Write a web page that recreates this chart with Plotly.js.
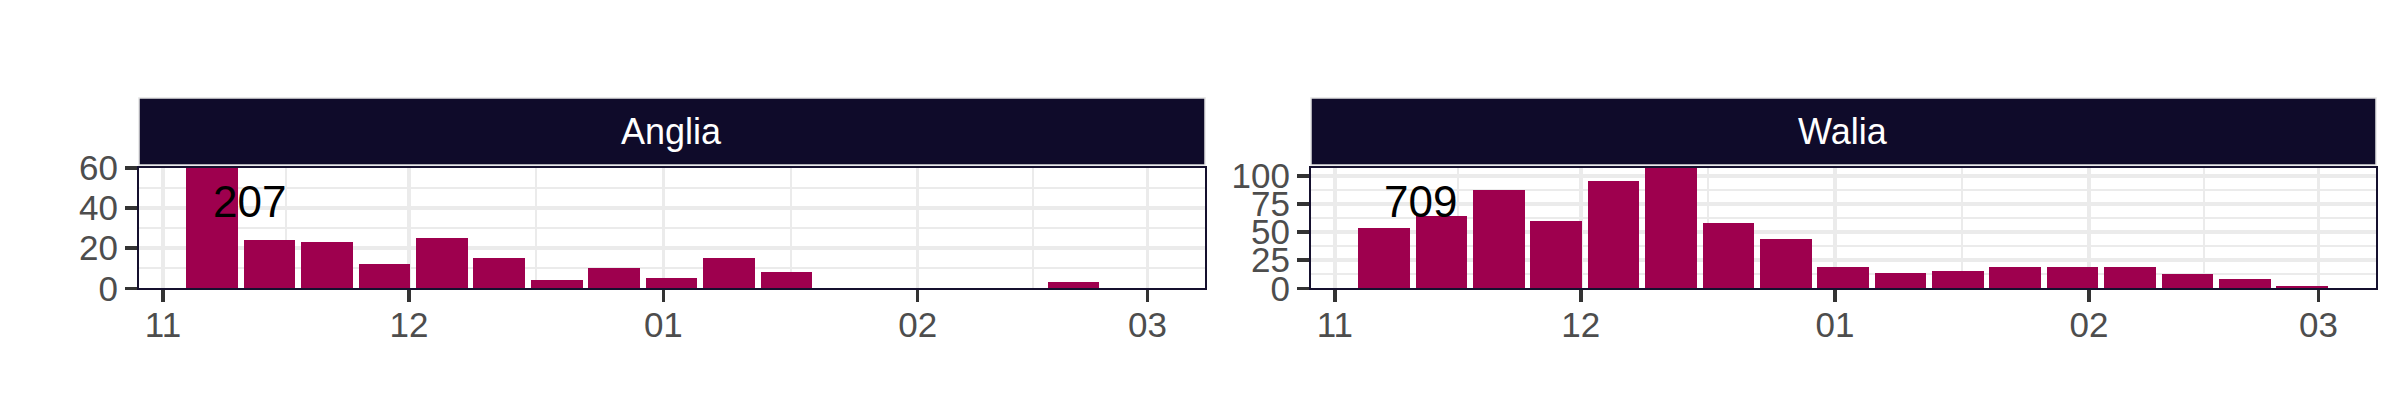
<!DOCTYPE html>
<html>
<head>
<meta charset="utf-8">
<script src="https://cdn.plot.ly/plotly-3.0.1.min.js"></script>
<style>
  html, body { margin: 0; padding: 0; background: #ffffff; }
  #chart { width: 2400px; height: 420px; }
</style>
</head>
<body>
<div id="chart"></div>
<script>
// ---- data ----
const panels = ['Anglia', 'Walia'];
const weeks = ['2020-11-07','2020-11-14','2020-11-21','2020-11-28','2020-12-05','2020-12-12',
               '2020-12-19','2020-12-26','2021-01-02','2021-01-09','2021-01-16','2021-01-23',
               '2021-01-30','2021-02-06','2021-02-13','2021-02-20','2021-02-27'];
const angliaCounts = [63, 24, 23, 12, 25, 15, 4, 10, 5, 15, 8, 0, 0, 0, 0, 3, 0];
const waliaCounts  = [54, 64, 87, 60, 95, 119, 58, 44, 19, 14, 15, 19, 19, 19, 13, 8, 2];
const xTickVals = ['2020-11-01','2020-12-01','2021-01-01','2021-02-01','2021-03-01'];
const xTickText = ['11', '12', '01', '02', '03'];
const xMinorVals = ['2020-11-16','2020-12-16 12:00','2021-01-16 12:00','2021-02-15'];
const angliaYTicks = [0, 20, 40, 60];
const waliaYTicks = [0, 25, 50, 75, 100];
const angliaYMax = 60;
const waliaYMax = 107;
const labelDate = '2020-11-11 12:00';

// ---- styling ----
const W = 2400, H = 420;
const FONT = 'Liberation Sans, Arial, Helvetica, sans-serif';
const barColor = '#9E004E';
const stripColor = '#0F0B2A';
const borderColor = '#15102E';
const gridColor = '#EBEBEB';
const tickColor = '#333333';
const tickLabelColor = '#4D4D4D';
const xRange = ['2020-10-29 02:00', '2021-03-08 00:30'];
const BAR_MS = 6.3 * 24 * 3600 * 1000;

const panelTop = 168, panelBottom = 288.3;
const yDom = [(H - panelBottom) / H, (H - panelTop) / H];
const xDoms = [[139 / W, 1205 / W], [1311 / W, 2376 / W]];
const stripTop = 98, stripBottom = 165;

function xAxis(dom, anchor) {
  return {
    domain: dom, anchor: anchor, type: 'date', range: xRange,
    tickmode: 'array', tickvals: xTickVals, ticktext: xTickText,
    ticks: 'outside', ticklen: 12, tickwidth: 3.5, tickcolor: tickColor,
    ticklabelstandoff: -7,
    tickfont: {family: FONT, size: 35, color: tickLabelColor},
    showgrid: true, gridcolor: gridColor, gridwidth: 3.5,
    minor: {tickmode: 'array', tickvals: xMinorVals, showgrid: true, gridcolor: gridColor, gridwidth: 2, ticks: ''},
    showline: true, mirror: true, linecolor: borderColor, linewidth: 2,
    zeroline: false, automargin: false, fixedrange: true
  };
}
function yAxis(anchor, maxV, ticks, minorStep) {
  return {
    domain: yDom, anchor: anchor, range: [0, maxV],
    tickmode: 'array', tickvals: ticks, ticktext: ticks.map(String),
    ticks: 'outside', ticklen: 12, tickwidth: 3.5, tickcolor: tickColor,
    tickfont: {family: FONT, size: 35, color: tickLabelColor},
    showgrid: true, gridcolor: gridColor, gridwidth: 3.5,
    minor: {tick0: 0, dtick: minorStep, showgrid: true, gridcolor: gridColor, gridwidth: 2, ticks: ''},
    showline: true, mirror: true, linecolor: borderColor, linewidth: 2,
    zeroline: false, automargin: false, fixedrange: true
  };
}

const sum = a => a.reduce((s, v) => s + v, 0);
const series = [angliaCounts, waliaCounts];

const traces = series.map((vals, i) => ({
  type: 'bar',
  x: weeks, y: vals,
  width: weeks.map(() => BAR_MS),
  marker: {color: barColor, line: {width: 0}},
  xaxis: i === 0 ? 'x' : 'x2',
  yaxis: i === 0 ? 'y' : 'y2',
  showlegend: false, hoverinfo: 'x+y'
}));

const shapes = [];
const annotations = [];
panels.forEach((name, i) => {
  shapes.push({
    type: 'rect', xref: 'paper', yref: 'paper', layer: 'above',
    x0: xDoms[i][0], x1: xDoms[i][1],
    y0: (H - stripBottom) / H, y1: (H - stripTop) / H,
    fillcolor: stripColor, line: {color: '#E3E3E3', width: 1.5}
  });
  annotations.push({
    xref: 'paper', yref: 'paper',
    x: (xDoms[i][0] + xDoms[i][1]) / 2, y: (H - (stripTop + stripBottom) / 2) / H,
    xanchor: 'center', yanchor: 'middle', showarrow: false,
    text: name, font: {family: FONT, size: 36, color: '#FFFFFF'}
  });
  annotations.push({
    xref: i === 0 ? 'x' : 'x2', yref: i === 0 ? 'y domain' : 'y2 domain',
    x: labelDate, y: 0.725, xanchor: 'center', yanchor: 'middle', showarrow: false,
    text: String(sum(series[i])), font: {family: FONT, size: 44, color: '#000000'}
  });
});

const layout = {
  width: W, height: H,
  margin: {l: 0, r: 0, t: 0, b: 0, pad: 0},
  paper_bgcolor: '#FFFFFF', plot_bgcolor: '#FFFFFF',
  bargap: 0,
  xaxis: xAxis(xDoms[0], 'y'),
  yaxis: yAxis('x', angliaYMax, angliaYTicks, 10),
  xaxis2: xAxis(xDoms[1], 'y2'),
  yaxis2: yAxis('x2', waliaYMax, waliaYTicks, 12.5),
  shapes: shapes,
  annotations: annotations,
  showlegend: false
};

Plotly.newPlot('chart', traces, layout, {displayModeBar: false, staticPlot: true});
</script>
</body>
</html>
